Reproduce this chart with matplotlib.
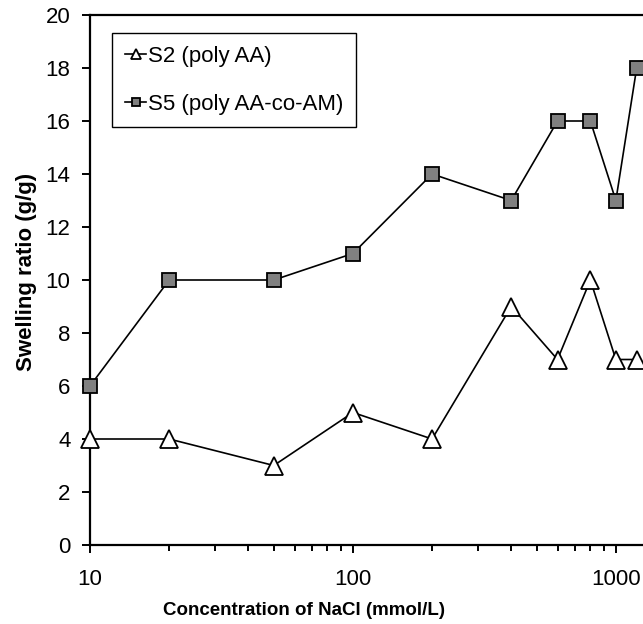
import matplotlib
matplotlib.use("Agg")
import matplotlib.pyplot as plt
from matplotlib.ticker import FixedLocator, LogLocator, NullFormatter, FuncFormatter

plt.rcParams["font.family"] = ["Liberation Sans", "DejaVu Sans"]

# NaCl concentration (mmol/L) and swelling ratio (g/g)
nacl = [10, 20, 50, 100, 200, 400, 600, 800, 1000, 1200]
s2_poly_aa = [4, 4, 3, 5, 4, 9, 7, 10, 7, 7]
s5_poly_aa_co_am = [6, 10, 10, 11, 14, 13, 16, 16, 13, 18]

x_ticks = [10, 100, 1000]
y_ticks = list(range(0, 21, 2))

fig = plt.figure(figsize=(6.43, 6.24), dpi=100)
# axes run past the right edge of the figure
ax = fig.add_axes([90 / 643, 79 / 624, 605 / 643, 530 / 624])

ax.plot(nacl, s2_poly_aa, color="black", lw=1.2, marker="^", ms=13,
        mfc="white", mec="black", mew=1.3, label="S2 (poly AA)",
        zorder=3, clip_on=False)
ax.plot(nacl, s5_poly_aa_co_am, color="black", lw=1.2, marker="s", ms=10,
        mfc="#808080", mec="black", mew=1.3, label="S5 (poly AA-co-AM)",
        zorder=3, clip_on=False)

ax.set_xscale("log")
ax.set_xlim(10, 2000)
ax.set_ylim(0, 20)

ax.xaxis.set_major_locator(FixedLocator(x_ticks))
ax.xaxis.set_major_formatter(FuncFormatter(lambda v, p: f"{int(v)}"))
ax.xaxis.set_minor_locator(LogLocator(base=10, subs=range(2, 10)))
ax.xaxis.set_minor_formatter(NullFormatter())
ax.set_yticks(y_ticks)

for s in ax.spines.values():
    s.set_linewidth(1.6)
ax.spines["right"].set_visible(False)

ax.tick_params(axis="both", which="major", direction="out", length=6,
               width=1.4, labelsize=16)
ax.tick_params(axis="y", which="major", pad=8)
ax.tick_params(axis="x", which="major", pad=11)
ax.tick_params(axis="x", which="minor", direction="out", length=4, width=1.4)

# x label sits under the visible part of the axis, not the full axes width
ax.set_xlabel("Concentration of NaCl (mmol/L)", fontsize=13.5, fontweight="bold")
ax.xaxis.set_label_coords(0.3545, -0.107)
ax.set_ylabel("Swelling ratio (g/g)", fontsize=16, fontweight="bold")
ax.yaxis.set_label_coords(-0.087, 0.515)

leg = ax.legend(loc="upper left", bbox_to_anchor=(0.036, 0.966), fontsize=16,
                markerscale=0.55, handlelength=0.98, handletextpad=0.05,
                labelspacing=1.2, borderpad=0.58, borderaxespad=0,
                fancybox=False, framealpha=1)
leg.get_frame().set_edgecolor("black")
leg.get_frame().set_linewidth(1.0)

fig.savefig("out.png", dpi=100)
